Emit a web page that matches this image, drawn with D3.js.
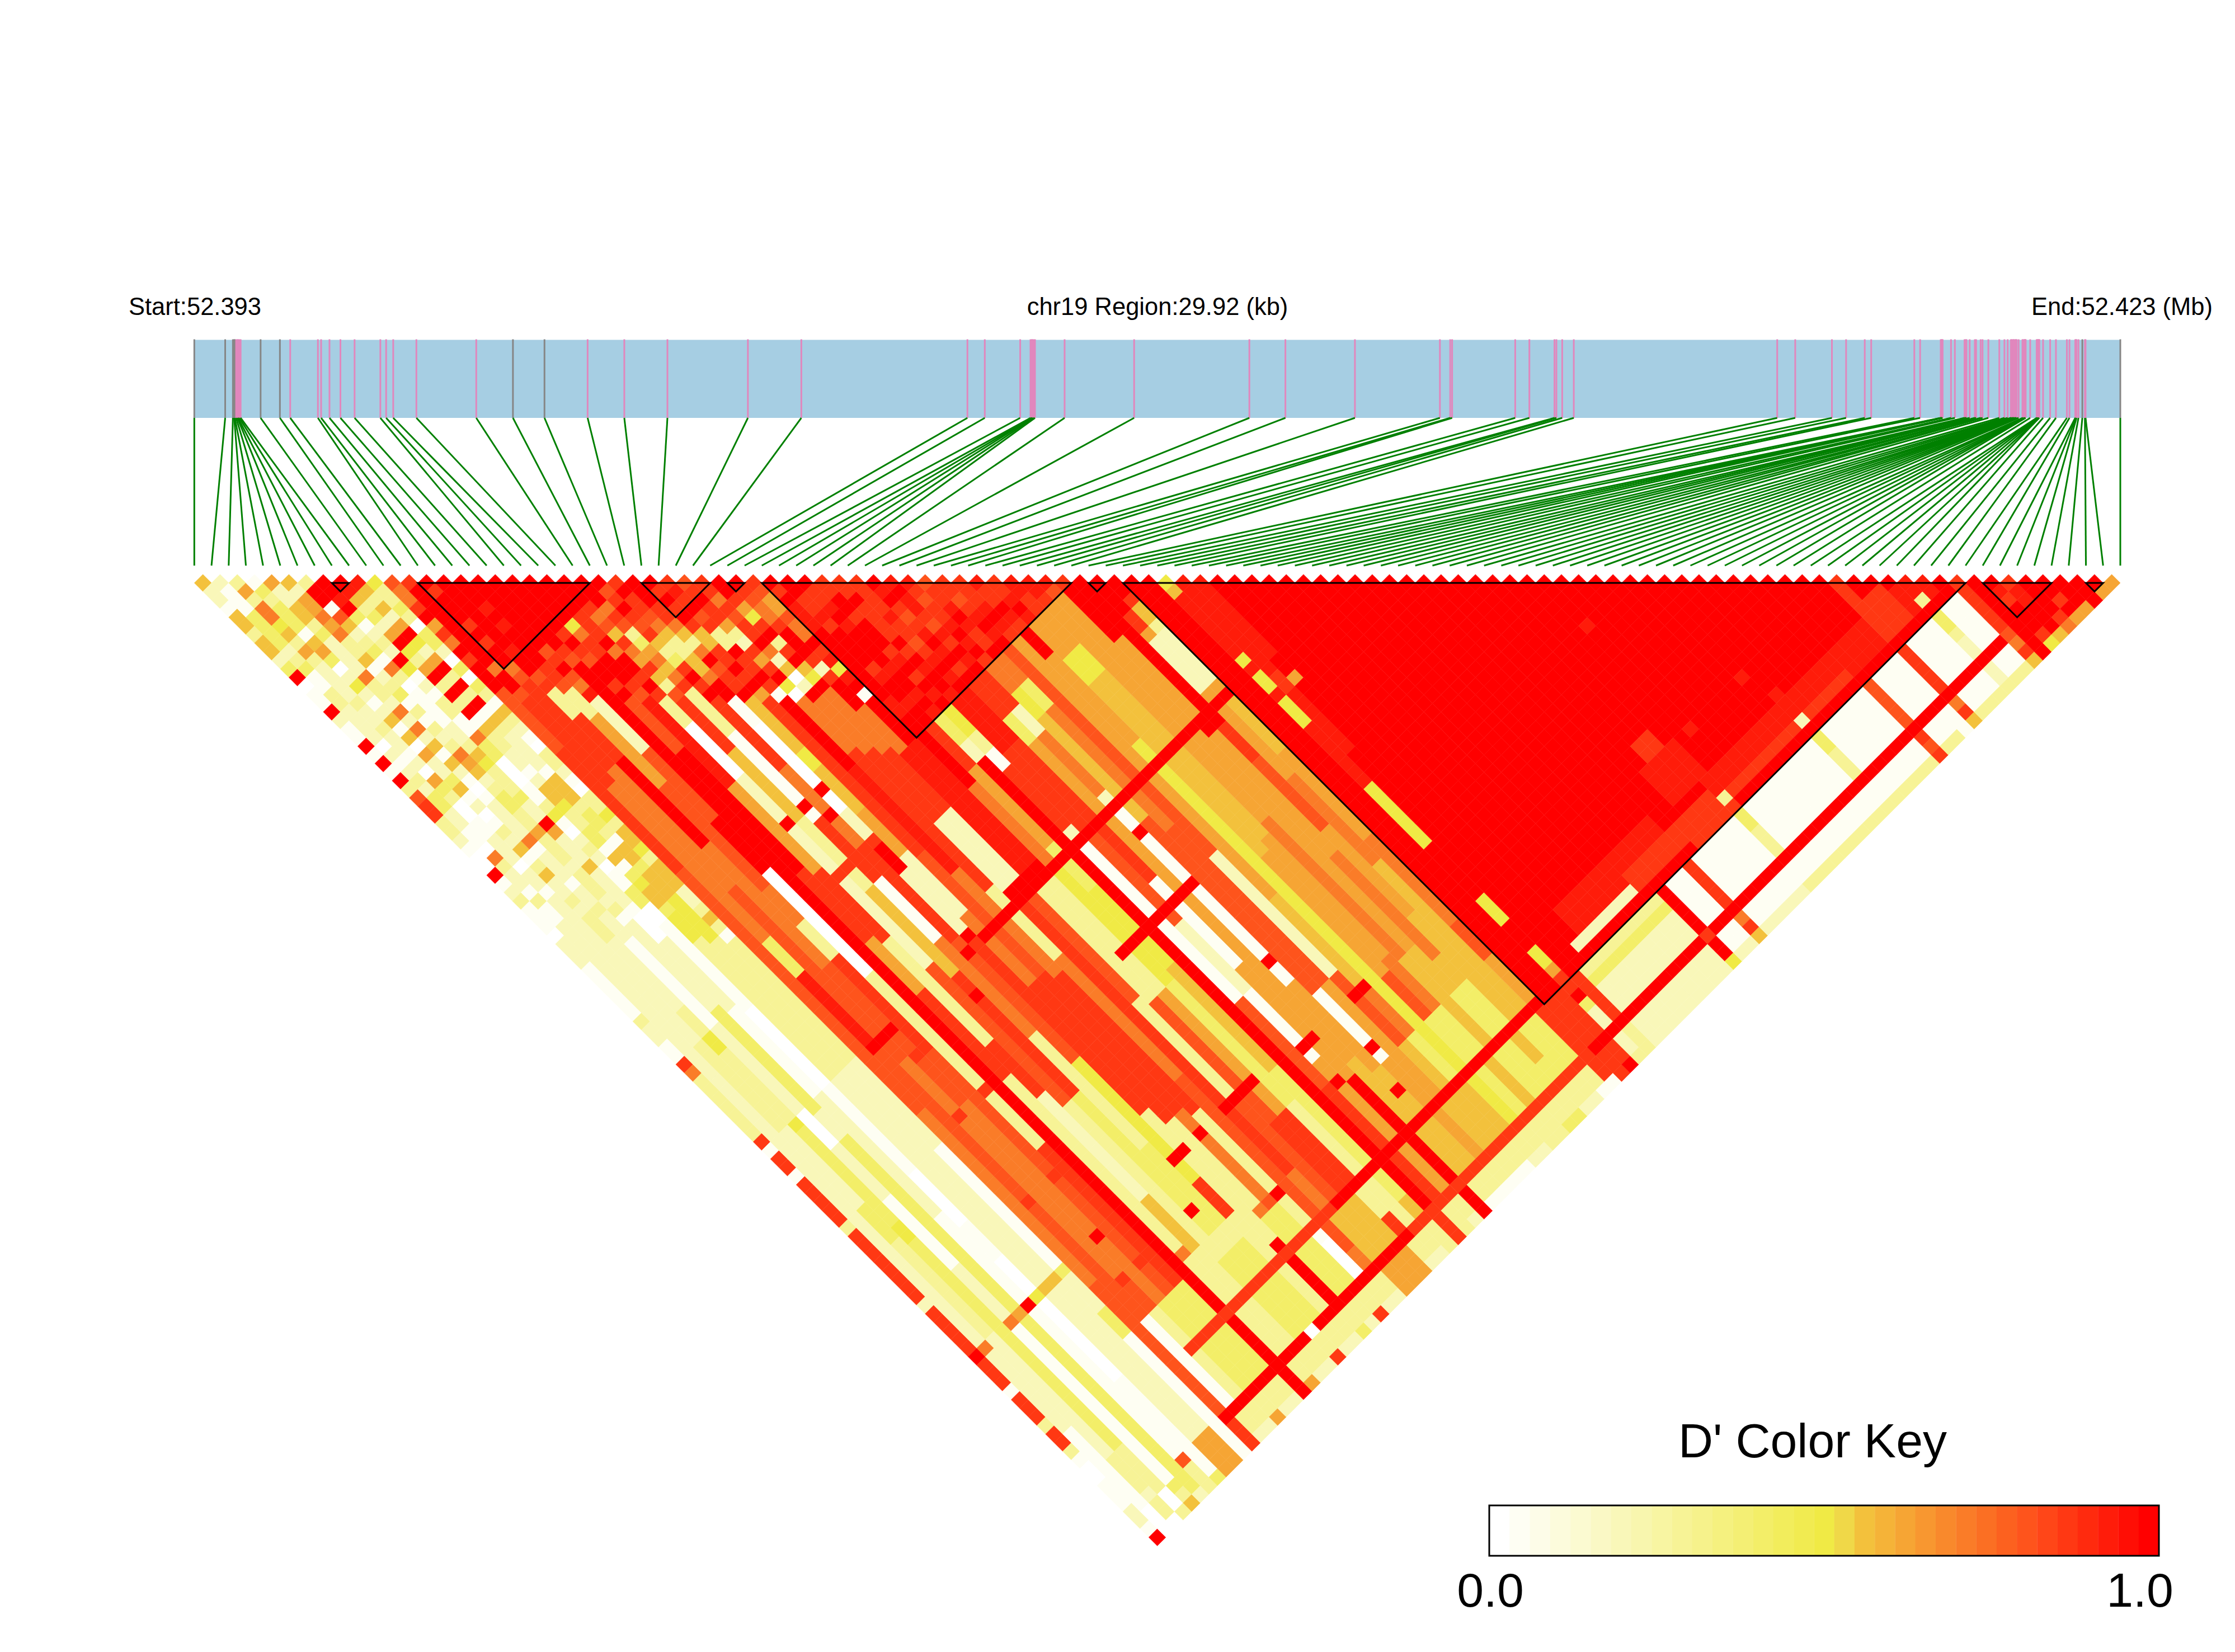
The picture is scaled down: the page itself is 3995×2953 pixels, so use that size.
<!DOCTYPE html>
<html><head><meta charset="utf-8"><style>html,body{margin:0;padding:0;background:#fff}svg{display:block}text{font-family:"Liberation Sans",Arial,sans-serif;fill:#000}</style>
<script src="https://cdn.jsdelivr.net/npm/d3@7/dist/d3.min.js"></script></head><body><script>
// Genomic offset of each SNP from the region start, kb
const snpOffsetsKb=[0,.48,.60,.62,.63,.65,.67,.68,.70,.72,1.03,1.33,1.49,1.92,1.97,2.10,2.27,2.49,2.89,2.98,3.09,3.45,4.38,4.95,5.44,6.11,6.68,7.35,8.60,9.43,12.01,12.28,12.83,12.99,13.01,13.02,13.04,13.06,13.52,14.60,16.39,16.95,18.03,19.35,19.51,19.54,20.52,20.74,21.13,21.16,21.25,21.43,24.59,24.87,25.44,25.66,25.95,26.05,26.72,26.81,27.13,27.14,27.15,27.16,27.29,27.35,27.50,27.52,27.53,27.58,27.66,27.68,27.75,27.78,27.87,28.04,28.12,28.17,28.22,28.23,28.25,28.26,28.27,28.29,28.30,28.31,28.34,28.40,28.41,28.43,28.44,28.44,28.45,28.52,28.62,28.63,28.64,28.65,28.66,28.66,28.72,28.83,28.92,29.09,29.13,29.22,29.23,29.24,29.27,29.33,29.37,29.38,29.92];
const greySnps=[0,1,2,3,4,10,11,23,24,109,112];
const regionKb=29.92;
const haploBlocks=[[8,9],[13,23],[26,30],[31,32],[33,51],[52,53],[54,103],[104,108],[110,111]];
// Letter = D' class
const levelLetters="abcdefghijklm";
const levelValues=[0,.06,.2,.28,.4,.5,.56,.63,.7,.79,.86,.93,1];
// One run-length string per left-hand SNP i; cells are (i,i+1),(i,i+2)...
const ldRows=[
"gccbggdggcemabbmcbbmbmbmdjkkddcbaambcdbbbacccbbbbbbdccbbkid7kbk2bk5dk8ck5mk3bk3dk2dba2b3c2bm",
"cbbbeeeecdebbddccccacbcdceeccbbaidccbdbbcc48ic9b9a3",
"dhdiifgdhdccccdccdccbcahedaabbcccaccbcccccc12d10c9e4d11cc13d4cd2a",
"bedeeebgheacfcbcgbgahccegbcabdcgbdgccdcdddc8d3f2d8fe3e8f2e10e14d5a2d",
"hccggdecccciddcicicgbgcbabccccibcccbccdcccb10c10a4c6b8c6ib12b6edg",
"gchhihiddgbcdebdbdcdihgcdeeddhdddcdddcdbccc8e12c3e20he12e7ec",
"dmmbjgcdebidabbbbccdgfdddeccmhcccgccccbaaac8b10c14b10mb12b5jd3",
"mmlmebcdcmfbcbddbbieeaaabbdfbacdcabbeeaabbb8a8ab4b6a6b4a4fa9b8b3e",
"mlgdechmfdhmdmdmbgddccbcggfddeebgbefggefffd8d8c24gc17h4",
"lgdgchmfchmdmdmbgdccccbgggdeedbggegggfffffd7d8c24gc17h4",
"fddedaeecaeaedbgdcbaddcbaddfdggfdgggccdgdbd6d8c10b14ec4e3b15",
"jiikmhkimkmmmjj6k14j28i20j30",
"kmmmmmmmmmimmjk10i18e4l8mj45",
"mkmmmkmkmmijkkk8i14j20i25j30",
"mmmmmmmmlmmjkdd2k5m10i14j16i30j30",
"mmmlmlmmmmkkjdd2h8j12i4d4k10j30i30",
"mmmmmmmmjkmjilc6j8m6a12d20k20j30",
"mmmmmmmmkjmmmmm85",
"mmmmmmkmkjmmkmj6m14k8h6k10d20i20d20",
"mmmmmfikkmmmkjl10h10k8d12k6c12g10c20",
"mmmmkkkmimmkmkd3a6c12c10j16d16i10d20",
"mmmkijgkihkgdjk6g8d8g10k14e30k6d10",
"mmmikjdehigikdd4b10k7b7i11d13e30",
"mjkmkjkgdekmkmk8i10k10j14f14k10f20",
"kmkkjigddggimmb3a10c4m3c7mk20d15m10g3",
"mmmkkigdimjkkmg6f2g5h5c7i8k16d10i20",
"mkmkmkggkkmkmhk18j14k16i10j20k10",
"klkmjkddmkkmkbm8l12i12k16d14i10",
"jkmkkhdckhkmfai6k16d8i14j20i20",
"kkikjkkmicgacmi6k8c8mk32i10",
"mmkhfkmdkmgfmii6k7c8mj13d12j16i12",
"mkjiikmmmkckmmi6l14md14j14k14h6",
"kjhhjiimklflmbm5l14md14h14k18",
"mkmlllmmmmmmmmllmmm6i9f14e14d20",
"mmkklkmmmmklmmlmmk5h9e5f9g12e15g20",
"mkklmlmmmmlmmlmle3c2m56",
"kkmmkmmmklmkmlmf3d2b2k8cb18j10k20",
"kkmkkkkmkmlmmll6k10j10c8b8h12",
"kkkklkkjklmlml6k8k8b10h14f20",
"mlmkjklmlmkmk4e3h17h20g20",
"lmllkjlkmlmk4c3i8cb20h12d14",
"lkjkklmlmki3f3g12j20b8h14",
"jkklmlkkmi3e3i14j18h16",
"kkjklmlmj24c14j16",
"kkklmlkh30g10i20",
"lkkmlkm3h10f50",
"kklmlh4f3g20h14j10h20",
"llkkh4f3g7g12h14i20",
"llkh7h8h10i16g20",
"ljh7h8h12h14g14",
"km6h10m1h14i12g14",
"m17k4j8h10g12e10g10",
"mmmmkkhc6hmh8i10g14h6",
"mmkggdc6hmg6h10i10j6k6",
"m49k9",
"m48k8m",
"fgl7flf2lf3l7f7m6f3m3f2hkkmeccmccd",
"l11k2l7m26k5md3",
"l9m2hm33cecccmccc",
"m44b9","m43b9","m42b9","m41b9","m40b9","m39b9","m38b9","m37b9","m36b9","m35b9","m34b9",
"m33b9","m32b9","m31b9","m30b9","m29b9","m28b9","m27b9","m26b9","m25b9","m24b9","m23b9",
"m22b9","m21b9","m20b9","m19b9","m18b9","m17b9","m16b9","m15b9","m14b9","m13b9","m12b9",
"m11b9","m10b9","m9b9","m8b9","m7b9","m6b9","m5b9","m4b9","m3b9","m2b9","mb9",
"m9",
"mlkmmmkf","kllmmmg","mmmmki","mmkmh","mmmh","mmm","mh","h"];
// Rectangular areas in (i,j): iFrom,iTo,jFrom,jTo,class
const ldPatches=[
[12,12,99,108,"b"],[13,13,99,108,"d"],[14,16,99,108,"e"],[18,23,98,108,"d"],[20,22,100,108,"e"],[25,26,100,108,"e"],
[40,53,98,108,"g"],[44,50,98,103,"e"],[46,52,104,108,"e"],[53,53,98,103,"h"],[53,55,104,108,"k"],[38,38,97,108,"m"],
[45,45,98,108,"f"],[42,42,98,103,"h"],[48,48,98,103,"g"],[41,41,98,108,"h"],[47,47,104,108,"g"],[50,50,104,106,"g"],
[24,24,102,108,"m"],[27,27,103,104,"b"],[27,27,105,108,"a"],[29,31,104,108,"g"],[32,33,104,106,"d"],
[11,38,110,111,"d"],[39,52,110,111,"d"],[11,38,112,112,"c"],[29,31,109,112,"h"],
[13,29,103,103,"k"],[30,53,103,103,"m"],
[11,32,109,109,"m"],[33,53,109,109,"k"],[54,101,109,109,"m"],[21,21,109,109,"a"],
[58,66,104,104,"d"],[58,66,105,105,"e"],[58,66,106,108,"c"],[59,66,110,112,"c"],[58,75,112,112,"c"],[76,93,112,112,"d"],[96,101,112,112,"d"],
[60,70,99,101,"l"],[66,72,101,102,"k"],[72,76,101,103,"k"],[76,90,100,101,"l"],[76,91,102,102,"k"],[73,76,96,99,"l"],[74,75,94,95,"k"],
[91,100,100,102,"l"],[95,97,99,102,"k"],[95,95,96,99,"k"],[84,84,96,96,"l"],[78,78,96,96,"l"],[78,78,84,84,"l"],[85,85,99,99,"l"],
[59,65,102,102,"c"],[76,76,102,102,"d"],[85,85,102,102,"c"],[99,99,102,102,"d"],
[67,67,104,108,"m"],[67,67,109,109,"k"],[67,67,110,111,"m"],[67,67,112,112,"f"],
[70,70,104,108,"k"],[70,70,109,109,"m"],[70,70,110,110,"i"],[70,70,111,111,"k"],[70,70,112,112,"g"],
[91,91,104,108,"j"],[91,91,109,109,"m"],[91,91,110,110,"k"],[91,91,111,111,"j"],[91,91,112,112,"k"],
[95,95,104,108,"k"],[95,95,109,109,"m"],[95,95,110,110,"i"],[95,95,111,111,"k"],[95,95,112,112,"g"],
[102,102,103,108,"k"],[102,102,109,109,"j"],[102,102,110,110,"i"],[102,102,111,111,"k"],[102,102,112,112,"g"],
[99,99,104,105,"e"],[99,99,106,106,"d"],[99,99,107,108,"c"],[99,99,110,111,"c"],[85,85,104,105,"e"],[85,85,106,108,"d"],[76,76,104,105,"e"],[76,76,106,108,"d"],
[25,54,67,67,"m"],[12,14,67,67,"m"],[23,23,67,67,"m"],[36,36,66,66,"c"],[40,40,66,66,"c"],
[32,34,76,76,"m"],[36,40,76,76,"m"],[40,40,70,70,"m"],[40,40,85,85,"m"],
[23,24,91,91,"m"],[26,26,91,91,"m"],[29,32,91,91,"m"],[14,14,91,91,"m"],[37,38,92,92,"m"],[43,44,92,92,"m"],
[37,37,96,96,"m"],[41,41,96,96,"m"],[40,40,100,100,"m"],[21,21,95,95,"m"],[27,27,99,99,"m"],[13,13,95,95,"k"],[15,15,95,95,"k"],
[12,12,85,85,"k"],[15,15,85,85,"k"],[13,13,76,76,"k"],[15,15,76,76,"j"],[16,16,76,76,"k"],[14,15,70,70,"k"],[21,21,70,70,"m"],
[22,22,49,49,"m"],[23,23,51,51,"m"],[20,20,49,49,"m"],[24,24,49,49,"m"],[31,31,46,46,"m"],[20,24,55,55,"k"],
[11,11,110,112,"k"],[14,14,112,112,"h"],[17,17,110,112,"m"],[18,18,112,112,"h"],[21,21,112,112,"k"],[24,24,112,112,"e"],[26,26,112,112,"k"],
[33,33,112,112,"c"],[34,34,112,112,"d"],[35,35,110,112,"k"],[36,36,112,112,"d"],[37,37,112,112,"c"],[38,38,110,112,"m"],
[39,39,112,112,"b"],[40,43,112,112,"b"],[44,45,112,112,"c"],[46,47,112,112,"d"],[48,49,112,112,"e"],[50,51,112,112,"c"],[52,53,112,112,"b"],[54,54,112,112,"k"],[55,55,112,112,"m"]
];
const legendBins=33, legendLabels=["0.0","1.0"], legendTitle="D' Color Key";
const labelStart="Start:52.393", labelMiddle="chr19 Region:29.92 (kb)", labelEnd="End:52.423 (Mb)";

const W=3995,H=2953,n=snpOffsetsKb.length;
const svg=d3.select("body").append("svg").attr("width",W).attr("height",H).attr("viewBox",[0,0,W,H]);
const xGen=d3.scaleLinear([0,regionKb],[347.3,3790]);
const xIdx=d3.scaleLinear([0,n-1],[347.3,3790]);
const yLev=d3.scaleLinear([0,n-2],[1042,2748]);
const half=(xIdx(1)-xIdx(0))/2;
const ramp=d3.scaleLinear([0,.5,.53,.56,.66,.75,.85,1],["#ffffff","#f0ea45","#f0d948","#f3c23c","#f89530","#fb6f23","#ff4317","#ff0000"]);
const binColor=k=>ramp(k/(legendBins-1));
const valueColor=v=>binColor(Math.min(legendBins-1,Math.floor(v*legendBins)));

const grid=new Map();
ldRows.forEach((row,i)=>{
  const cells=[];
  for(const m of row.matchAll(/([a-m])(\d*)/g)){const c=m[2]?+m[2]:1;for(let k=0;k<c;k++)cells.push(m[1]);}
  for(let j=i+1;j<n;j++){grid.set(i*1000+j,cells[j-i-1]||cells[cells.length-1]);}
});
ldPatches.forEach(([a,b,c,d,l])=>{for(let i=a;i<=b;i++)for(let j=c;j<=d;j++)if(j>i&&j<n)grid.set(i*1000+j,l);});
const cells=[];
grid.forEach((l,key)=>{const i=Math.floor(key/1000),j=key%1000;cells.push({i,j,v:levelValues[levelLetters.indexOf(l)]});});

svg.append("g").selectAll("polygon").data(cells).join("polygon")
 .attr("points",d=>{const x=xIdx((d.i+d.j)/2),y=yLev(d.j-d.i-1);return [[x-half,y],[x,y-half],[x+half,y],[x,y+half]].join(" ");})
 .attr("fill",d=>valueColor(d.v))
 .attr("stroke",d=>valueColor(d.v)).attr("stroke-width",d=>d.v>0?.5:0);

svg.append("g").selectAll("path").data(haploBlocks).join("path")
 .attr("d",([a,b])=>d3.line()([[xIdx(a),yLev(0)],[xIdx(b),yLev(0)],[(xIdx(a)+xIdx(b))/2,yLev(b-a)]])+"Z")
 .attr("fill","none").attr("stroke","#000").attr("stroke-width",3).attr("stroke-linejoin","miter");

svg.append("rect").attr("x",xGen(0)).attr("y",607.5).attr("width",xGen(regionKb)-xGen(0)).attr("height",139.5).attr("fill","#a6cee3");
svg.append("g").selectAll("line").data(snpOffsetsKb).join("line")
 .attr("x1",d=>xGen(d)).attr("x2",d=>xGen(d)).attr("y1",606.5).attr("y2",747)
 .attr("stroke",(d,i)=>greySnps.includes(i)?"#868686":"#e187bd").attr("stroke-width",3);
svg.append("g").selectAll("line").data(snpOffsetsKb).join("line")
 .attr("x1",d=>xGen(d)).attr("x2",(d,i)=>xIdx(i)).attr("y1",747).attr("y2",1011)
 .attr("stroke","#008000").attr("stroke-width",3);

svg.append("text").attr("x",348.5).attr("y",563).attr("text-anchor","middle").attr("font-size",43.5).text(labelStart);
svg.append("text").attr("x",2069).attr("y",563).attr("text-anchor","middle").attr("font-size",43.5).text(labelMiddle);
svg.append("text").attr("x",3793).attr("y",563).attr("text-anchor","middle").attr("font-size",43.5).text(labelEnd);

const lx=d3.scaleLinear([0,legendBins],[2662,3859]);
svg.append("g").selectAll("rect").data(d3.range(legendBins)).join("rect")
 .attr("x",d=>lx(d)).attr("y",2691).attr("width",lx(1)-lx(0)+.3).attr("height",90).attr("fill",binColor);
svg.append("rect").attr("x",2662).attr("y",2691).attr("width",1197).attr("height",90).attr("fill","none").attr("stroke","#000").attr("stroke-width",3);
svg.append("text").attr("x",3000).attr("y",2605).attr("font-size",86).text(legendTitle);
svg.append("text").attr("x",2664).attr("y",2872).attr("text-anchor","middle").attr("font-size",86).text(legendLabels[0]);
svg.append("text").attr("x",3825).attr("y",2872).attr("text-anchor","middle").attr("font-size",86).text(legendLabels[1]);
</script></body></html>
